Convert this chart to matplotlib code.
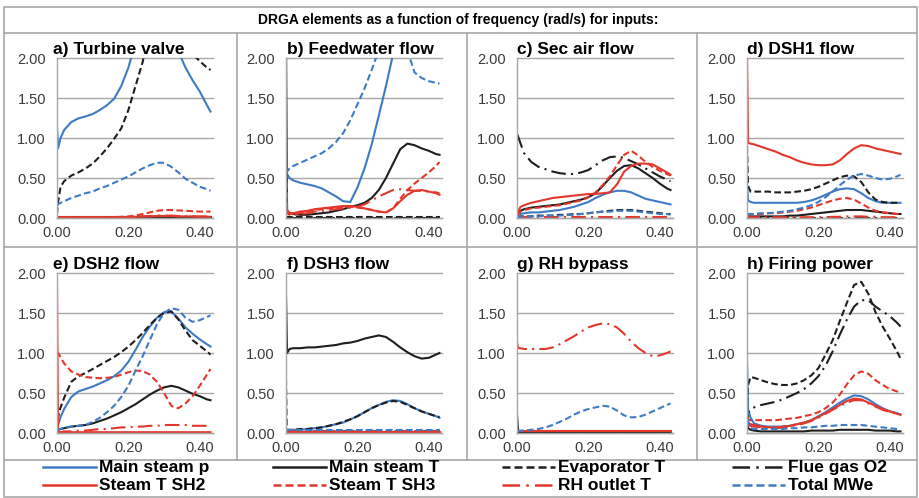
import matplotlib
matplotlib.use("Agg")
import matplotlib.pyplot as plt
from matplotlib.lines import Line2D
from matplotlib.patches import Rectangle

plt.rcParams["font.family"] = ["Liberation Sans", "DejaVu Sans"]

W, H = 919, 498

# frequency grid (rad/s)
freq = [0, 0.003, 0.01, 0.02, 0.04, 0.06, 0.08, 0.10, 0.12, 0.14, 0.16, 0.18,
        0.20, 0.22, 0.24, 0.26, 0.28, 0.30, 0.32, 0.34, 0.36, 0.38, 0.40, 0.42, 0.43]

series_names = ["Main steam p", "Main steam T", "Evaporator T", "Flue gas O2",
                "Steam T SH2", "Steam T SH3", "RH outlet T", "Total MWe"]
panel_titles = ["a) Turbine valve", "b) Feedwater flow", "c) Sec air flow", "d) DSH1 flow",
                "e) DSH2 flow", "f) DSH3 flow", "g) RH bypass", "h) Firing power"]
x_ticks = [0, 0.2, 0.4]
x_labels = ["0.00", "0.20", "0.40"]
y_ticks = [0, 0.5, 1.0, 1.5, 2.0]
y_labels = ["0.00", "0.50", "1.00", "1.50", "2.00"]

panel_a = {
    "Main steam p": [1.14, 0.87, 1.00, 1.10, 1.20, 1.245, 1.27, 1.30, 1.35, 1.41, 1.49, 1.65, 1.88, 2.2, 2.6, 2.9, 3.0, 3.0, 2.7, 2.08, 1.88, 1.72, 1.58, 1.41, 1.33],
    "Main steam T": [0.01, 0.01, 0.01, 0.01, 0.01, 0.01, 0.01, 0.01, 0.01, 0.01, 0.01, 0.01, 0.01, 0.01, 0.01, 0.01, 0.01, 0.01, 0.01, 0.01, 0.01, 0.01, 0.01, 0.01, 0.01],
    "Evaporator T": [0.05, 0.20, 0.39, 0.46, 0.53, 0.57, 0.62, 0.68, 0.77, 0.87, 0.99, 1.12, 1.35, 1.65, 1.95, 2.4, 2.8, 3.0, 2.9, 2.6, 2.3, 2.05, 1.96, 1.88, 1.85],
    "Flue gas O2": [0.005, 0.005, 0.005, 0.005, 0.005, 0.005, 0.005, 0.005, 0.005, 0.005, 0.005, 0.005, 0.005, 0.005, 0.005, 0.005, 0.005, 0.005, 0.005, 0.005, 0.005, 0.005, 0.005, 0.005, 0.005],
    "Steam T SH2": [0.01, 0.01, 0.01, 0.01, 0.01, 0.01, 0.01, 0.01, 0.01, 0.01, 0.01, 0.01, 0.01, 0.015, 0.02, 0.02, 0.025, 0.025, 0.025, 0.02, 0.02, 0.02, 0.015, 0.015, 0.015],
    "Steam T SH3": [0.01, 0.01, 0.01, 0.01, 0.01, 0.01, 0.01, 0.01, 0.01, 0.01, 0.01, 0.015, 0.02, 0.03, 0.05, 0.07, 0.09, 0.10, 0.10, 0.095, 0.09, 0.085, 0.08, 0.08, 0.08],
    "RH outlet T": [0.01, 0.01, 0.01, 0.01, 0.01, 0.01, 0.01, 0.01, 0.01, 0.01, 0.01, 0.01, 0.015, 0.02, 0.02, 0.025, 0.03, 0.03, 0.03, 0.025, 0.02, 0.02, 0.02, 0.02, 0.02],
    "Total MWe": [0.15, 0.17, 0.19, 0.21, 0.25, 0.28, 0.31, 0.33, 0.37, 0.40, 0.44, 0.48, 0.52, 0.57, 0.62, 0.66, 0.69, 0.69, 0.64, 0.57, 0.49, 0.44, 0.39, 0.36, 0.34],
}

panel_b = {
    "Main steam p": [0.60, 0.55, 0.50, 0.47, 0.44, 0.42, 0.40, 0.37, 0.32, 0.27, 0.21, 0.20, 0.38, 0.62, 0.92, 1.28, 1.65, 2.05, 2.5, 2.8, 3.0, 3.0, 3.0, 3.0, 3.0],
    "Main steam T": [2.2, 0.08, 0.06, 0.05, 0.04, 0.04, 0.05, 0.06, 0.07, 0.09, 0.11, 0.14, 0.16, 0.19, 0.25, 0.35, 0.50, 0.68, 0.86, 0.93, 0.91, 0.87, 0.84, 0.80, 0.79],
    "Evaporator T": [0.01, 0.01, 0.01, 0.01, 0.01, 0.01, 0.01, 0.01, 0.01, 0.01, 0.01, 0.01, 0.01, 0.01, 0.01, 0.01, 0.01, 0.01, 0.01, 0.01, 0.01, 0.01, 0.01, 0.01, 0.01],
    "Flue gas O2": [0.005, 0.005, 0.005, 0.005, 0.005, 0.005, 0.005, 0.005, 0.005, 0.005, 0.005, 0.005, 0.005, 0.005, 0.005, 0.005, 0.005, 0.005, 0.005, 0.005, 0.005, 0.005, 0.005, 0.005, 0.005],
    "Steam T SH2": [0.30, 0.10, 0.06, 0.06, 0.08, 0.09, 0.11, 0.12, 0.13, 0.14, 0.15, 0.15, 0.14, 0.12, 0.10, 0.08, 0.07, 0.12, 0.21, 0.29, 0.34, 0.35, 0.33, 0.31, 0.29],
    "Steam T SH3": [0.95, 0.12, 0.05, 0.05, 0.06, 0.08, 0.10, 0.11, 0.12, 0.13, 0.14, 0.14, 0.13, 0.12, 0.10, 0.08, 0.07, 0.12, 0.24, 0.35, 0.43, 0.50, 0.57, 0.65, 0.70],
    "RH outlet T": [0.20, 0.06, 0.04, 0.04, 0.05, 0.06, 0.08, 0.09, 0.10, 0.11, 0.12, 0.13, 0.14, 0.17, 0.22, 0.27, 0.31, 0.35, 0.36, 0.35, 0.34, 0.34, 0.33, 0.32, 0.31],
    "Total MWe": [0.55, 0.58, 0.62, 0.65, 0.69, 0.73, 0.77, 0.81, 0.87, 0.95, 1.06, 1.22, 1.42, 1.62, 1.85, 2.1, 2.3, 2.4, 2.35, 2.1, 1.82, 1.75, 1.71, 1.69, 1.68],
}

panel_c = {
    "Main steam p": [0.03, 0.04, 0.05, 0.06, 0.07, 0.07, 0.08, 0.09, 0.10, 0.12, 0.14, 0.17, 0.20, 0.25, 0.29, 0.32, 0.34, 0.34, 0.32, 0.28, 0.24, 0.22, 0.20, 0.18, 0.17],
    "Main steam T": [0.02, 0.05, 0.09, 0.11, 0.13, 0.14, 0.15, 0.16, 0.17, 0.19, 0.21, 0.23, 0.26, 0.31, 0.40, 0.50, 0.59, 0.65, 0.66, 0.62, 0.56, 0.50, 0.43, 0.37, 0.35],
    "Evaporator T": [0.01, 0.01, 0.02, 0.02, 0.02, 0.03, 0.03, 0.03, 0.04, 0.04, 0.05, 0.05, 0.06, 0.07, 0.08, 0.09, 0.10, 0.10, 0.10, 0.09, 0.08, 0.07, 0.06, 0.05, 0.05],
    "Flue gas O2": [1.05, 1.02, 0.93, 0.81, 0.70, 0.64, 0.61, 0.58, 0.56, 0.55, 0.55, 0.57, 0.60, 0.66, 0.72, 0.76, 0.77, 0.75, 0.71, 0.67, 0.62, 0.57, 0.52, 0.48, 0.46],
    "Steam T SH2": [0.03, 0.08, 0.14, 0.16, 0.19, 0.21, 0.23, 0.25, 0.26, 0.27, 0.28, 0.29, 0.30, 0.30, 0.31, 0.32, 0.42, 0.58, 0.65, 0.68, 0.68, 0.67, 0.62, 0.57, 0.54],
    "Steam T SH3": [0.03, 0.05, 0.08, 0.10, 0.12, 0.13, 0.14, 0.15, 0.16, 0.18, 0.20, 0.22, 0.26, 0.32, 0.41, 0.52, 0.66, 0.79, 0.84, 0.78, 0.70, 0.64, 0.59, 0.55, 0.53],
    "RH outlet T": [0.01, 0.01, 0.01, 0.01, 0.01, 0.01, 0.01, 0.01, 0.01, 0.01, 0.01, 0.01, 0.01, 0.01, 0.01, 0.01, 0.01, 0.01, 0.01, 0.01, 0.01, 0.01, 0.01, 0.01, 0.01],
    "Total MWe": [0.01, 0.01, 0.02, 0.02, 0.02, 0.02, 0.03, 0.03, 0.03, 0.04, 0.04, 0.05, 0.06, 0.07, 0.08, 0.08, 0.09, 0.09, 0.09, 0.08, 0.07, 0.06, 0.05, 0.05, 0.04],
}

panel_d = {
    "Main steam p": [0.45, 0.22, 0.20, 0.19, 0.19, 0.19, 0.19, 0.19, 0.19, 0.19, 0.20, 0.22, 0.25, 0.29, 0.33, 0.36, 0.37, 0.36, 0.31, 0.25, 0.21, 0.19, 0.19, 0.19, 0.19],
    "Main steam T": [0.02, 0.02, 0.02, 0.02, 0.02, 0.02, 0.02, 0.02, 0.03, 0.03, 0.04, 0.05, 0.06, 0.07, 0.08, 0.09, 0.10, 0.10, 0.10, 0.09, 0.08, 0.07, 0.06, 0.05, 0.05],
    "Evaporator T": [0.90, 0.40, 0.33, 0.33, 0.33, 0.33, 0.32, 0.32, 0.32, 0.33, 0.34, 0.36, 0.39, 0.43, 0.47, 0.51, 0.53, 0.52, 0.45, 0.32, 0.23, 0.20, 0.19, 0.19, 0.19],
    "Flue gas O2": [0.005, 0.005, 0.005, 0.005, 0.005, 0.005, 0.005, 0.005, 0.005, 0.005, 0.005, 0.005, 0.005, 0.005, 0.005, 0.005, 0.005, 0.005, 0.005, 0.005, 0.005, 0.005, 0.005, 0.005, 0.005],
    "Steam T SH2": [2.05, 0.94, 0.93, 0.92, 0.89, 0.86, 0.83, 0.79, 0.76, 0.72, 0.69, 0.67, 0.66, 0.66, 0.67, 0.72, 0.80, 0.87, 0.91, 0.90, 0.87, 0.85, 0.83, 0.81, 0.80],
    "Steam T SH3": [0.05, 0.05, 0.05, 0.05, 0.05, 0.06, 0.06, 0.07, 0.08, 0.09, 0.11, 0.13, 0.16, 0.19, 0.22, 0.24, 0.25, 0.23, 0.18, 0.13, 0.09, 0.07, 0.06, 0.05, 0.05],
    "RH outlet T": [0.05, 0.02, 0.01, 0.01, 0.01, 0.01, 0.01, 0.01, 0.01, 0.01, 0.01, 0.01, 0.01, 0.01, 0.015, 0.015, 0.02, 0.02, 0.02, 0.015, 0.015, 0.01, 0.01, 0.01, 0.01],
    "Total MWe": [0.05, 0.05, 0.05, 0.05, 0.06, 0.06, 0.07, 0.08, 0.09, 0.11, 0.13, 0.16, 0.20, 0.26, 0.33, 0.41, 0.48, 0.53, 0.55, 0.53, 0.50, 0.48, 0.49, 0.52, 0.54],
}

panel_e = {
    "Main steam p": [0.04, 0.10, 0.20, 0.30, 0.45, 0.52, 0.55, 0.58, 0.62, 0.66, 0.71, 0.78, 0.89, 1.04, 1.20, 1.33, 1.44, 1.51, 1.52, 1.43, 1.32, 1.24, 1.17, 1.11, 1.08],
    "Main steam T": [0.03, 0.04, 0.05, 0.06, 0.08, 0.09, 0.10, 0.12, 0.15, 0.18, 0.22, 0.26, 0.31, 0.36, 0.42, 0.48, 0.53, 0.57, 0.59, 0.57, 0.53, 0.49, 0.46, 0.42, 0.41],
    "Evaporator T": [0.04, 0.20, 0.32, 0.44, 0.64, 0.71, 0.75, 0.80, 0.85, 0.90, 0.95, 1.01, 1.08, 1.16, 1.25, 1.35, 1.44, 1.50, 1.52, 1.42, 1.28, 1.16, 1.09, 1.02, 0.98],
    "Flue gas O2": [0.005, 0.005, 0.005, 0.005, 0.005, 0.005, 0.005, 0.005, 0.005, 0.005, 0.005, 0.005, 0.005, 0.005, 0.005, 0.005, 0.005, 0.005, 0.005, 0.005, 0.005, 0.005, 0.005, 0.005, 0.005],
    "Steam T SH2": [1.85, 0.02, 0.01, 0.01, 0.01, 0.01, 0.01, 0.01, 0.01, 0.01, 0.01, 0.01, 0.01, 0.01, 0.01, 0.01, 0.01, 0.01, 0.01, 0.01, 0.01, 0.01, 0.01, 0.01, 0.01],
    "Steam T SH3": [1.02, 1.00, 0.95, 0.87, 0.77, 0.73, 0.70, 0.69, 0.685, 0.69, 0.70, 0.73, 0.76, 0.78, 0.775, 0.73, 0.64, 0.50, 0.34, 0.31, 0.37, 0.46, 0.59, 0.73, 0.80],
    "RH outlet T": [0.01, 0.01, 0.01, 0.02, 0.02, 0.03, 0.03, 0.04, 0.05, 0.05, 0.06, 0.07, 0.07, 0.08, 0.08, 0.09, 0.09, 0.10, 0.10, 0.10, 0.10, 0.09, 0.09, 0.09, 0.09],
    "Total MWe": [0.03, 0.04, 0.05, 0.07, 0.08, 0.09, 0.10, 0.14, 0.19, 0.26, 0.34, 0.45, 0.59, 0.78, 0.96, 1.16, 1.36, 1.50, 1.56, 1.54, 1.44, 1.39, 1.41, 1.45, 1.47],
}

panel_f = {
    "Main steam p": [0.03, 0.03, 0.03, 0.04, 0.04, 0.05, 0.06, 0.07, 0.09, 0.11, 0.13, 0.17, 0.21, 0.26, 0.31, 0.35, 0.39, 0.41, 0.40, 0.36, 0.31, 0.27, 0.24, 0.21, 0.19],
    "Main steam T": [1.72, 1.00, 1.05, 1.06, 1.06, 1.07, 1.07, 1.08, 1.09, 1.10, 1.12, 1.13, 1.15, 1.18, 1.20, 1.22, 1.20, 1.14, 1.07, 1.01, 0.96, 0.93, 0.94, 0.98, 1.00],
    "Evaporator T": [0.04, 0.04, 0.04, 0.04, 0.05, 0.05, 0.06, 0.07, 0.09, 0.11, 0.14, 0.17, 0.21, 0.26, 0.31, 0.35, 0.38, 0.40, 0.39, 0.35, 0.31, 0.27, 0.24, 0.21, 0.20],
    "Flue gas O2": [0.005, 0.005, 0.005, 0.005, 0.005, 0.005, 0.005, 0.005, 0.005, 0.005, 0.005, 0.005, 0.005, 0.005, 0.005, 0.005, 0.005, 0.005, 0.005, 0.005, 0.005, 0.005, 0.005, 0.005, 0.005],
    "Steam T SH2": [0.01, 0.01, 0.01, 0.01, 0.01, 0.01, 0.01, 0.01, 0.01, 0.01, 0.01, 0.01, 0.01, 0.01, 0.01, 0.01, 0.01, 0.01, 0.01, 0.01, 0.01, 0.01, 0.01, 0.01, 0.01],
    "Steam T SH3": [0.68, 0.03, 0.02, 0.02, 0.02, 0.02, 0.02, 0.02, 0.02, 0.02, 0.02, 0.02, 0.02, 0.02, 0.02, 0.02, 0.02, 0.02, 0.02, 0.02, 0.02, 0.02, 0.02, 0.02, 0.02],
    "RH outlet T": [0.02, 0.02, 0.02, 0.02, 0.02, 0.02, 0.02, 0.02, 0.02, 0.02, 0.02, 0.02, 0.02, 0.02, 0.02, 0.02, 0.02, 0.02, 0.02, 0.02, 0.02, 0.02, 0.02, 0.02, 0.02],
    "Total MWe": [0.04, 0.04, 0.04, 0.04, 0.04, 0.04, 0.04, 0.04, 0.04, 0.04, 0.04, 0.04, 0.04, 0.04, 0.04, 0.04, 0.04, 0.04, 0.04, 0.04, 0.04, 0.04, 0.04, 0.04, 0.04],
}

panel_g = {
    "Main steam p": [0.02, 0.01, 0.01, 0.01, 0.01, 0.01, 0.01, 0.01, 0.01, 0.01, 0.01, 0.01, 0.01, 0.01, 0.01, 0.01, 0.01, 0.01, 0.01, 0.01, 0.01, 0.01, 0.01, 0.01, 0.01],
    "Main steam T": [0.23, 0.02, 0.01, 0.01, 0.01, 0.01, 0.01, 0.01, 0.01, 0.01, 0.01, 0.01, 0.01, 0.01, 0.01, 0.01, 0.01, 0.01, 0.01, 0.01, 0.01, 0.01, 0.01, 0.01, 0.01],
    "Evaporator T": [0.01, 0.01, 0.01, 0.01, 0.01, 0.01, 0.01, 0.01, 0.01, 0.01, 0.01, 0.01, 0.01, 0.01, 0.01, 0.01, 0.01, 0.01, 0.01, 0.01, 0.01, 0.01, 0.01, 0.01, 0.01],
    "Flue gas O2": [0.005, 0.005, 0.005, 0.005, 0.005, 0.005, 0.005, 0.005, 0.005, 0.005, 0.005, 0.005, 0.005, 0.005, 0.005, 0.005, 0.005, 0.005, 0.005, 0.005, 0.005, 0.005, 0.005, 0.005, 0.005],
    "Steam T SH2": [0.02, 0.02, 0.02, 0.02, 0.02, 0.02, 0.02, 0.02, 0.02, 0.02, 0.02, 0.02, 0.02, 0.02, 0.02, 0.02, 0.02, 0.02, 0.02, 0.02, 0.02, 0.02, 0.02, 0.02, 0.02],
    "Steam T SH3": [0.02, 0.02, 0.02, 0.02, 0.02, 0.02, 0.02, 0.02, 0.02, 0.02, 0.02, 0.02, 0.02, 0.02, 0.02, 0.02, 0.02, 0.02, 0.02, 0.02, 0.02, 0.02, 0.02, 0.02, 0.02],
    "RH outlet T": [1.13, 1.06, 1.06, 1.05, 1.05, 1.05, 1.05, 1.07, 1.11, 1.16, 1.21, 1.27, 1.32, 1.35, 1.37, 1.36, 1.32, 1.24, 1.14, 1.06, 1.00, 0.96, 0.97, 1.00, 1.02],
    "Total MWe": [0.03, 0.03, 0.03, 0.03, 0.04, 0.05, 0.07, 0.10, 0.14, 0.18, 0.23, 0.27, 0.30, 0.32, 0.34, 0.33, 0.28, 0.22, 0.195, 0.20, 0.23, 0.27, 0.31, 0.35, 0.37],
}

panel_h = {
    "Main steam p": [0.90, 0.30, 0.19, 0.12, 0.09, 0.08, 0.08, 0.08, 0.09, 0.11, 0.13, 0.16, 0.21, 0.26, 0.32, 0.38, 0.43, 0.47, 0.46, 0.42, 0.36, 0.31, 0.27, 0.25, 0.23],
    "Main steam T": [0.15, 0.06, 0.04, 0.03, 0.02, 0.02, 0.02, 0.02, 0.02, 0.02, 0.02, 0.03, 0.03, 0.03, 0.03, 0.04, 0.04, 0.04, 0.04, 0.04, 0.03, 0.03, 0.03, 0.02, 0.02],
    "Evaporator T": [0.10, 0.60, 0.70, 0.69, 0.66, 0.63, 0.61, 0.60, 0.60, 0.62, 0.66, 0.72, 0.81, 0.98, 1.16, 1.40, 1.63, 1.85, 1.89, 1.74, 1.51, 1.33, 1.18, 1.02, 0.93],
    "Flue gas O2": [0.10, 0.25, 0.30, 0.32, 0.35, 0.37, 0.39, 0.42, 0.46, 0.50, 0.55, 0.62, 0.71, 0.84, 1.02, 1.23, 1.42, 1.58, 1.66, 1.66, 1.58, 1.52, 1.46, 1.38, 1.33],
    "Steam T SH2": [0.15, 0.13, 0.11, 0.10, 0.08, 0.07, 0.07, 0.08, 0.09, 0.11, 0.13, 0.16, 0.20, 0.25, 0.30, 0.35, 0.40, 0.43, 0.42, 0.38, 0.34, 0.30, 0.27, 0.24, 0.23],
    "Steam T SH3": [0.20, 0.17, 0.16, 0.16, 0.16, 0.16, 0.16, 0.17, 0.18, 0.19, 0.21, 0.23, 0.26, 0.31, 0.38, 0.48, 0.61, 0.72, 0.77, 0.74, 0.66, 0.60, 0.55, 0.52, 0.50],
    "RH outlet T": [0.12, 0.10, 0.09, 0.08, 0.07, 0.06, 0.06, 0.07, 0.08, 0.10, 0.12, 0.15, 0.19, 0.24, 0.29, 0.34, 0.38, 0.41, 0.41, 0.37, 0.33, 0.29, 0.26, 0.24, 0.22],
    "Total MWe": [0.80, 0.15, 0.06, 0.05, 0.05, 0.05, 0.05, 0.05, 0.06, 0.06, 0.07, 0.07, 0.08, 0.09, 0.09, 0.10, 0.10, 0.10, 0.10, 0.09, 0.08, 0.07, 0.06, 0.05, 0.05],
}

panels = [panel_a, panel_b, panel_c, panel_d, panel_e, panel_f, panel_g, panel_h]

BLUE, RED, BLACK = "#3d7bc4", "#e4372b", "#1e1e1e"
DASH = (0, (3.2, 1.6))
DASHDOT = (0, (7, 2.5, 1, 2.5))
styles = {
    "Main steam p": (BLUE, "-"),
    "Main steam T": (BLACK, "-"),
    "Evaporator T": (BLACK, DASH),
    "Flue gas O2": (BLACK, DASHDOT),
    "Steam T SH2": (RED, "-"),
    "Steam T SH3": (RED, DASH),
    "RH outlet T": (RED, DASHDOT),
    "Total MWe": (BLUE, DASH),
}
GRID = "#a8a8a8"


def fx(px):
    return px / W


def fy(py):
    return 1 - py / H


fig = plt.figure(figsize=(W / 100, H / 100), dpi=100)

# outer frames around title, panels and legend
fig.add_artist(Rectangle((fx(4), fy(497)), fx(917) - fx(4), fy(7) - fy(497),
                         fill=False, ec=GRID, lw=1.2, transform=fig.transFigure))
for yy in (33, 247, 460):
    fig.add_artist(Line2D([fx(4), fx(917)], [fy(yy), fy(yy)], color=GRID, lw=1.2,
                          transform=fig.transFigure))
for xx in (237, 467, 697):
    fig.add_artist(Line2D([fx(xx), fx(xx)], [fy(33), fy(460)], color=GRID, lw=1.2,
                          transform=fig.transFigure))

fig.text(fx(458), fy(20), "DRGA elements as a function of frequency (rad/s) for inputs:",
         ha="center", va="center", fontsize=10, fontweight="bold")

col_x = [57, 286, 517, 747]
title_x = [53, 287, 517, 747]
row_top = [58, 273]
AX_W, AX_H = 156, 160

for i, (title, data) in enumerate(zip(panel_titles, panels)):
    r, c = divmod(i, 4)
    x0, y0 = col_x[c], row_top[r]
    ax = fig.add_axes([fx(x0), fy(y0 + AX_H), AX_W / W, AX_H / H])
    ax.patch.set_alpha(0)
    for name in series_names:
        color, ls = styles[name]
        ax.plot(freq, data[name], color=color, linestyle=ls, lw=1.5)
    ax.set_xlim(0, 0.437)
    ax.set_ylim(0, 2)
    ax.set_xticks(x_ticks)
    ax.set_xticklabels(x_labels)
    ax.set_yticks(y_ticks)
    ax.set_yticklabels(y_labels)
    ax.tick_params(length=0, labelsize=10.5, labelcolor="#3a3a3a")
    ax.tick_params(axis="y", pad=8)
    ax.tick_params(axis="x", pad=6)
    ax.grid(axis="y", color=GRID, lw=1)
    ax.set_axisbelow(True)
    for gl in ax.get_ygridlines():
        gl.set_clip_on(False)
    for s in ("top", "right"):
        ax.spines[s].set_visible(False)
    for s in ("left", "bottom"):
        ax.spines[s].set_color(GRID)
        ax.spines[s].set_linewidth(1)
    fig.text(fx(title_x[c]), fy(y0 - 4), title, fontsize=12.5, fontweight="bold",
             ha="left", va="baseline")

# legend drawn as a grid of handles
leg_handle_x = [43, 273, 502, 732]
leg_rows = [467, 485]
for k, name in enumerate(series_names):
    r, c = divmod(k, 4)
    color, ls = styles[name]
    hx = leg_handle_x[c]
    yy = leg_rows[r]
    fig.add_artist(Line2D([fx(hx), fx(hx + 53)], [fy(yy), fy(yy)], color=color,
                          linestyle=ls, lw=1.8, transform=fig.transFigure))
    fig.text(fx(hx + 56), fy(yy), name, fontsize=12.5, fontweight="bold",
             ha="left", va="center")

fig.savefig("out.png", dpi=100)
